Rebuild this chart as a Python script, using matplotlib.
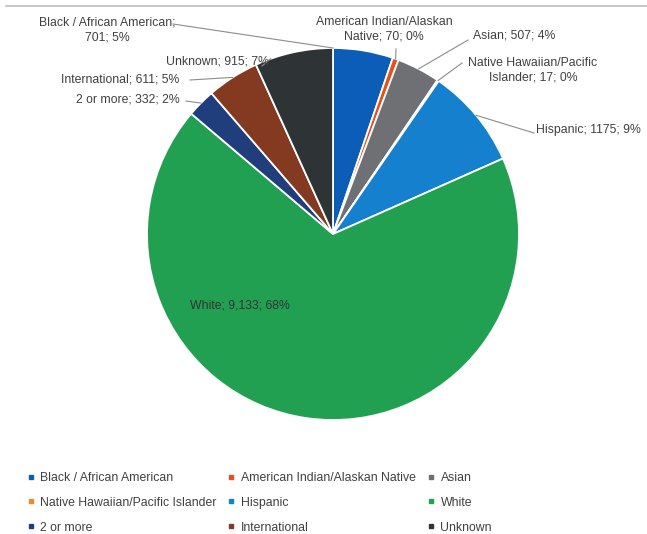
import numpy as np
import matplotlib
matplotlib.use("Agg")
import matplotlib.pyplot as plt
from matplotlib.lines import Line2D

# ---- data ----
categories = ["Black / African American", "American Indian/Alaskan Native", "Asian",
              "Native Hawaiian/Pacific Islander", "Hispanic", "White",
              "2 or more", "International", "Unknown"]
counts = [701, 70, 507, 17, 1175, 9133, 332, 611, 915]
count_text = ["701", "70", "507", "17", "1175", "9,133", "332", "611", "915"]
pct_text = ["5%", "0%", "4%", "0%", "9%", "68%", "2%", "5%", "7%"]
label_names = ["Black / African American;\n", "American Indian/Alaskan\nNative", "Asian",
               "Native Hawaiian/Pacific\nIslander", "Hispanic", "White",
               "2 or more", "International", "Unknown"]

colors = ["#0B5DB8", "#E5501F", "#6E7073", "#F08A2C", "#1580CE", "#22A052",
          "#203D7C", "#843A20", "#2E3436"]

W, H = 647, 534
CX, CY, R = 333, 234, 186

plt.rcParams["font.family"] = ["Liberation Sans", "DejaVu Sans"]

fig = plt.figure(figsize=(W / 100, H / 100), dpi=100)
ax = fig.add_axes([(CX - R) / W, (H - CY - R) / H, 2 * R / W, 2 * R / H])
wedges, _ = ax.pie(counts, colors=colors, startangle=90, counterclock=False,
                   radius=1, wedgeprops=dict(edgecolor="white", linewidth=1.3))
ax.set_xlim(-1, 1)
ax.set_ylim(-1, 1)
ax.axis("off")


def px(x, y):
    # pixel position in the picture -> pie data coords
    return (x - CX) / R, (CY - y) / R


# label layout: (text centre px, leader start px or None, fraction along wedge)
layout = [
    ((107, 30), (173, 24), 0.0),
    ((384, 29), (396, 49), 0.5),
    ((514, 35), (468, 40), 0.5),
    ((533, 70), (462, 63), 0.5),
    ((588, 130), (534, 133), 0.5),
    ((240, 305), None, None),
    ((128, 99), (186, 101), 0.5),
    ((120, 79), (190, 80), 0.5),
    ((217, 61), (262, 66), 0.2),
]

total = float(sum(counts))
start = 0.0
for i, name in enumerate(label_names):
    frac = counts[i] / total
    (tx, ty), lead, f = layout[i]
    if name.endswith("\n"):
        txt = f"{name}{count_text[i]}; {pct_text[i]}"
    else:
        txt = f"{name}; {count_text[i]}; {pct_text[i]}"
    x, y = px(tx, ty)
    ax.text(x, y, txt, ha="center", va="center", fontsize=8.8,
            color="#404040" if lead else "#333333", linespacing=1.25,
            clip_on=False)
    if lead:
        ang = np.deg2rad(90 - 360 * (start + f * frac))
        ex, ey = np.cos(ang), np.sin(ang)
        sx, sy = px(*lead)
        ax.plot([sx, ex], [sy, ey], color="#8C8C8C", linewidth=0.8,
                clip_on=False)
    start += frac

# thin frame line at the top
fig.add_artist(Line2D([6 / W, 1], [1 - 6 / H, 1 - 6 / H], color="#BDBDBD",
                      linewidth=1.2, transform=fig.transFigure))

# legend, filled row-wise like the reference (matplotlib fills column-wise)
order = [0, 3, 6, 1, 4, 7, 2, 5, 8]
handles = [Line2D([], [], marker="s", linestyle="none", markersize=3.5,
                  color=colors[k], markeredgecolor=colors[k]) for k in order]
fig.legend(handles, [categories[k] for k in order], ncol=3, frameon=False,
           loc="upper left", bbox_to_anchor=(22 / W, 1 - 467 / H),
           fontsize=8.8, handlelength=0.6, handletextpad=0.5,
           columnspacing=0.9, labelspacing=1.05, borderaxespad=0,
           labelcolor="#404040")

fig.savefig("out.png", dpi=100, facecolor="white")
